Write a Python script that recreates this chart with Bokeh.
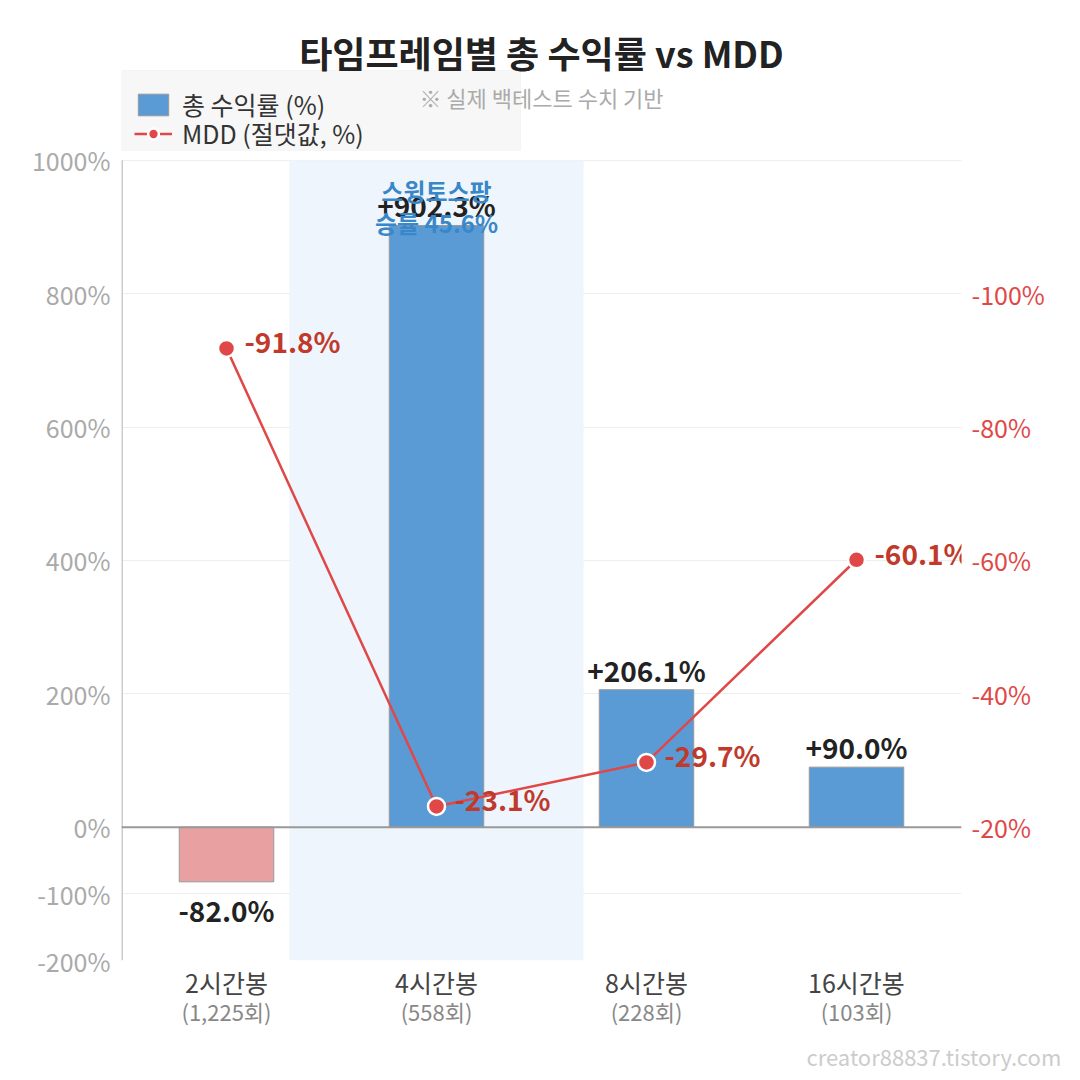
from bokeh.plotting import figure
from bokeh.models import (FactorRange, Range1d, LinearAxis, CategoricalAxis, FixedTicker,
                          PrintfTickFormatter, CustomJSTickFormatter, BoxAnnotation, Span, Title,
                          Label, Legend, LegendItem)
from bokeh.core.properties import value
from bokeh.embed import file_html
from bokeh.resources import INLINE

# ---- data ----
categories = ["2시간봉", "4시간봉", "8시간봉", "16시간봉"]
trade_counts = ["(1,225회)", "(558회)", "(228회)", "(103회)"]
total_returns = [-82.0, 902.3, 206.1, 90.0]
mdd_values = [-91.8, -23.1, -29.7, -60.1]
left_ticks = [-200, -100, 0, 200, 400, 600, 800, 1000]
right_ticks = [-20, -40, -60, -80, -100]
highlight_category = "4시간봉"
highlight_lines = ["스윙토스팡", "승률 45.6%"]
title_text = "타임프레임별 총 수익률 vs MDD"
subtitle_text = "※ 실제 백테스트 수치 기반"
watermark_text = "creator88837.tistory.com"
legend_labels = ["총 수익률 (%)", "MDD (절댓값, %)"]

FONT = "Noto Sans CJK KR"
BLUE = "#5b9bd5"
PINK = "#e8a0a0"
RED = "#e04848"
DARKRED = "#c0392b"

# layout (pixels)
W, H = 1080, 1080
F_LEFT, F_RIGHT, F_BOTTOM = 121, 961, 961
PLOT_TOP = 160          # where the value 1000 sits
CANVAS_TOP = 20         # frame extends up to here to host title and legend
Y_MIN, Y_MAX = -200, 1000
UPP = (Y_MAX - Y_MIN) / (F_BOTTOM - PLOT_TOP)   # data units per pixel
y_top = Y_MAX + (PLOT_TOP - CANVAS_TOP) * UPP
CAT_PX = (F_RIGHT - F_LEFT) / len(categories)


def y_at(py):
    return Y_MAX + (PLOT_TOP - py) * UPP


def x_at(px):
    return (px - F_LEFT) / CAT_PX


# right axis: left 0 -> -20, left 200 -> -40
def to_right(v):
    return -20 - v / 10.0


p = figure(width=W, height=H, x_range=FactorRange(*categories),
           y_range=Range1d(Y_MIN, y_top), output_backend="svg", toolbar_location=None,
           min_border_left=F_LEFT, min_border_right=W - F_RIGHT,
           min_border_top=CANVAS_TOP, min_border_bottom=H - F_BOTTOM)
p.outline_line_color = None
p.extra_y_ranges = {"mdd": Range1d(start=to_right(Y_MIN), end=to_right(y_top))}

# grid
p.xgrid.visible = False
p.ygrid.ticker = FixedTicker(ticks=left_ticks)
p.ygrid.grid_line_color = "#eeeeee"
p.ygrid.grid_line_width = 1

# left axis
ya = p.yaxis[0]
ya.ticker = FixedTicker(ticks=left_ticks)
ya.formatter = PrintfTickFormatter(format="%d%%")
ya.major_label_text_font = FONT
ya.major_label_text_font_size = "25px"
ya.major_label_text_color = "#aaaaaa"
ya.axis_line_color = None
ya.major_tick_line_color = None
ya.minor_tick_line_color = None
ya.major_label_standoff = 5

# right axis
ra = LinearAxis(y_range_name="mdd", ticker=FixedTicker(ticks=right_ticks),
                formatter=PrintfTickFormatter(format="%d%%"))
ra.major_label_text_font = FONT
ra.major_label_text_font_size = "25px"
ra.major_label_text_color = RED
ra.axis_line_color = None
ra.major_tick_line_color = None
ra.minor_tick_line_color = None
ra.major_label_standoff = 4
p.add_layout(ra, "right")

# x axis (category names)
xa = p.xaxis[0]
xa.major_label_text_font = FONT
xa.major_label_text_font_size = "25px"
xa.major_label_text_color = "#444444"
xa.axis_line_color = None
xa.major_tick_line_color = None
xa.major_tick_out = 0
xa.major_tick_in = 0
xa.major_label_standoff = 3

# second x axis (trade counts)
xa2 = CategoricalAxis(formatter=CustomJSTickFormatter(
    args=dict(cats=categories, counts=trade_counts),
    code="const i = cats.indexOf(tick); return i >= 0 ? counts[i] : String(tick);"))
xa2.major_label_text_font = FONT
xa2.major_label_text_font_size = "22px"
xa2.major_label_text_color = "#888888"
xa2.axis_line_color = None
xa2.major_tick_line_color = None
xa2.major_tick_out = 0
xa2.major_tick_in = 0
xa2.major_label_standoff = -8
p.add_layout(xa2, "below")

# watermark
p.add_layout(Title(text=watermark_text, align="left", offset=685, standoff=17,
                   text_font=FONT, text_font_size="22px", text_font_style="normal",
                   text_color="#cccccc"), "below")

# highlight band
idx = categories.index(highlight_category)
band = BoxAnnotation(left=idx + 0.5 - 0.7, right=idx + 0.5 + 0.7, bottom=Y_MIN, top=Y_MAX,
                     fill_color="#eef5fd", fill_alpha=1.0, line_color=None, level="underlay")
p.add_layout(band)

# left axis line (only over the value range)
p.segment(x0=[0], y0=[Y_MIN], x1=[0], y1=[Y_MAX], line_color="#cccccc", line_width=3)

# bars
bar_colors = [PINK if v < 0 else BLUE for v in total_returns]
bars = p.vbar(x=categories, top=total_returns, width=0.45, fill_color=bar_colors,
              line_color="#999999", line_width=1)

# zero line
p.add_layout(Span(location=0, dimension="width", line_color="#999999", line_width=2))

# bar value labels
pos_x = [c for c, v in zip(categories, total_returns) if v >= 0]
pos_y = [v for v in total_returns if v >= 0]
neg_x = [c for c, v in zip(categories, total_returns) if v < 0]
neg_y = [v for v in total_returns if v < 0]
p.text(x=pos_x, y=pos_y, text=[f"{v:+.1f}%" for v in pos_y], y_offset=-20,
       text_align="center", text_baseline="middle", text_font=value(FONT),
       text_font_style="bold", text_font_size="28px", text_color="#222222")
p.text(x=neg_x, y=neg_y, text=[f"{v:+.1f}%" for v in neg_y], y_offset=28,
       text_align="center", text_baseline="middle", text_font=value(FONT),
       text_font_style="bold", text_font_size="28px", text_color="#222222")

# highlight annotation text
p.text(x=[highlight_category] * 2, y=[Y_MAX, Y_MAX], text=highlight_lines, y_offset=[30, 62],
       text_align="center", text_baseline="middle", text_font=value(FONT),
       text_font_style="bold", text_font_size="24px", text_color="#3a87c8")

# MDD line
line_r = p.line(x=categories, y=mdd_values, y_range_name="mdd", line_color=RED, line_width=2.5)
pts = p.scatter(x=categories, y=mdd_values, y_range_name="mdd", size=17, fill_color=RED,
                line_color="white", line_width=2.5)
p.text(x=categories, y=mdd_values, y_range_name="mdd", text=[f"{v:.1f}%" for v in mdd_values],
       x_offset=18, y_offset=-7, text_align="left", text_baseline="middle",
       text_font=value(FONT), text_font_style="bold", text_font_size="28px", text_color=DARKRED)

# legend box background
p.add_layout(BoxAnnotation(left=x_at(F_LEFT), right=x_at(520), top=y_at(70), bottom=y_at(150),
                           fill_color="#f7f7f7", fill_alpha=1.0, line_color="#e4e4e4",
                           line_width=1, level="annotation"))

# legend: one entry per Legend so the rows can sit closer together
leg_style = dict(background_fill_alpha=0.0, border_line_color=None,
                 label_text_font=FONT, label_text_font_size="25px",
                 label_text_color="#333333", glyph_width=38, glyph_height=27,
                 label_standoff=10, padding=0, margin=0)
leg1 = Legend(items=[LegendItem(label=legend_labels[0], renderers=[bars], index=1)],
              location=(13, F_BOTTOM - 123), **leg_style)
leg2 = Legend(items=[LegendItem(label=legend_labels[1], renderers=[line_r, pts])],
              location=(13, F_BOTTOM - 152), **leg_style)
p.add_layout(leg1)
p.add_layout(leg2)

# title and subtitle
mid_x = len(categories) / 2.0
p.add_layout(Label(x=mid_x, y=y_at(52), text=title_text, text_align="center",
                   text_baseline="middle", text_font=FONT, text_font_style="bold",
                   text_font_size="36px", text_color="#222222", level="overlay"))
p.add_layout(Label(x=mid_x, y=y_at(97), text=subtitle_text, text_align="center",
                   text_baseline="middle", text_font=FONT, text_font_size="22px",
                   text_color="#aaaaaa", level="overlay"))

open("out.html", "w").write(file_html(p, INLINE))
